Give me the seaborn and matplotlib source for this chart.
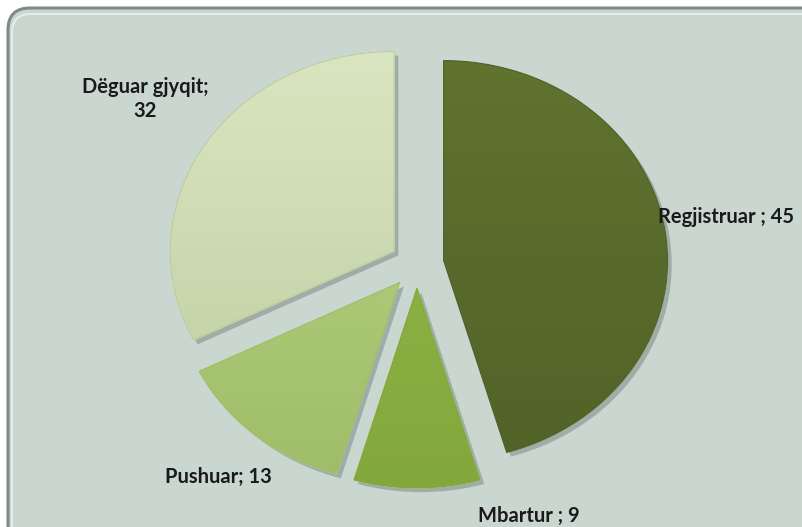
import numpy as np
import matplotlib
matplotlib.use("Agg")
import matplotlib.pyplot as plt
import matplotlib.patheffects as pe
from matplotlib.patches import FancyBboxPatch, PathPatch
import seaborn as sns

labels = ["Regjistruar", "Mbartur", "Pushuar", "Dëguar gjyqit"]
values = [45, 9, 13, 32]
label_texts = ["Regjistruar ; 45", "Mbartur ; 9", "Pushuar; 13", "Dëguar gjyqit;\n32"]

# top / bottom gradient colours per slice
top_colors = ["#627530", "#94BC4C", "#BDD88A", "#DCE8C4"]
bottom_colors = ["#4F6027", "#82A63A", "#9DBB66", "#BBCA9C"]

sns.set_theme(style="white")
plt.rcParams["font.family"] = ["Lato", "DejaVu Sans"]

fig = plt.figure(figsize=(8.02, 5.27), dpi=100)
fig.patch.set_facecolor("white")

# framed chart area
frame = FancyBboxPatch((0.08, -0.3), 8.3, 5.49, boxstyle="round,pad=0,rounding_size=0.22",
                       transform=fig.dpi_scale_trans, facecolor="#C9D7D0",
                       edgecolor="#7E8A85", linewidth=2.2, zorder=-2)
fig.patches.append(frame)
inner = FancyBboxPatch((0.12, -0.3), 8.2, 5.43, boxstyle="round,pad=0,rounding_size=0.19",
                       transform=fig.dpi_scale_trans, facecolor="none",
                       edgecolor="#EEF3F0", linewidth=1.5, alpha=0.8, zorder=-1)
fig.patches.append(inner)

ax = fig.add_axes([0, 0, 1, 1])
ax.set_facecolor("none")
ax.set_zorder(2)

wedges, _ = ax.pie(values, startangle=90, counterclock=False,
                   explode=[0.12] * len(values),
                   colors=top_colors,
                   wedgeprops=dict(edgecolor="#FFFFFF", linewidth=0.6))

ax.set_aspect("auto")
ax.axis("off")

grad = np.linspace(0, 1, 256).reshape(-1, 1)
for w, c0, c1 in zip(wedges, top_colors, bottom_colors):
    w.set_path_effects([pe.SimplePatchShadow(offset=(3, -3), alpha=0.35, shadow_rgbFace="#55605A"),
                        pe.Normal()])
    cmap = matplotlib.colors.LinearSegmentedColormap.from_list("g", [c0, c1])
    im = ax.imshow(grad, cmap=cmap, extent=(-1.6, 1.6, -1.3, 1.3), aspect="auto",
                   origin="upper", zorder=w.get_zorder() + 0.1, interpolation="bilinear")
    im.set_clip_path(w)
    ax.add_patch(PathPatch(w.get_path(), transform=w.get_transform(),
                           facecolor="none", edgecolor=c1,
                           linewidth=0.8, zorder=w.get_zorder() + 0.2))

ax.set_xlim(-1.862, 1.719)
ax.set_ylim(-1.315, 1.32)

label_pos = {
    "Regjistruar": (1.076, 0.235, "left"),
    "Mbartur": (0.5, -1.26, "center"),
    "Pushuar": (-0.888, -1.065, "center"),
    "Dëguar gjyqit": (-1.214, 0.825, "center"),
}
for name, txt in zip(labels, label_texts):
    x, y, ha = label_pos[name]
    ax.text(x, y, txt, ha=ha, va="center", fontsize=14.5, fontweight="bold",
            color="#1A1A1A", linespacing=1.3, zorder=10)

fig.savefig("out.png", dpi=100)
